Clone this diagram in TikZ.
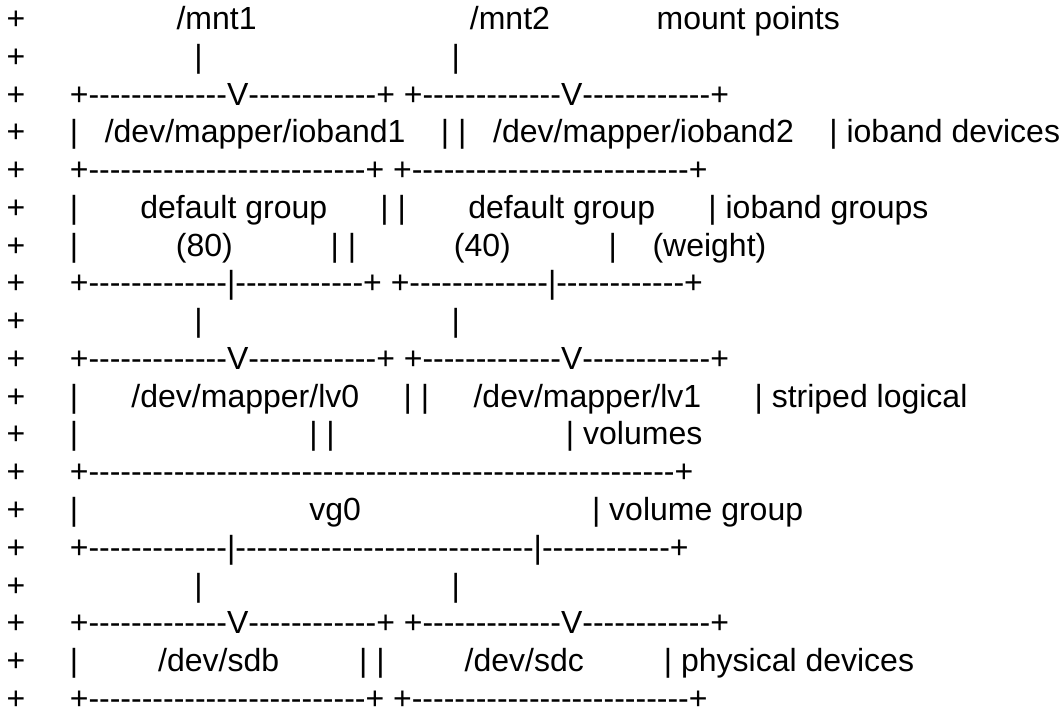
\documentclass[tikz,border=0pt]{standalone}
\usepackage{fontspec}
\usepackage{tikz}
\newfontfamily\asciifont{Liberation Sans}[Kerning=Off]

% n spaces / n dashes of the ascii art
\newcommand{\gap}[1]{\hspace*{#1\fontdimen2\font}}
\newcommand{\dashes}[1]{\foreach\k in {1,...,#1}{-}}

\begin{document}
\begin{tikzpicture}[x=1pt, y=-1pt,
    row/.style={anchor=base west, inner sep=0pt, font={\asciifont\fontsize{32pt}{38pt}\selectfont}}]
    \path[use as bounding box, fill=white] (0,0) rectangle (1063,710);

    % mount points
    \node[row] (l1) at (6.5,29.5) {+\gap{17}/mnt1\gap{24}/mnt2\gap{12}mount points};
    \node[row] (l2) at (6.5,67.27) {+\gap{19}|\gap{28}|};
    % ioband devices and groups
    \node[row] (l3) at (6.5,105.04) {+\gap{5}+\dashes{13}V\dashes{12}+ +\dashes{13}V\dashes{12}+};
    \node[row] (l4) at (6.5,142.81) {+\gap{5}|\gap{3}/dev/mapper/ioband1\gap{4}| |\gap{3}/dev/mapper/ioband2\gap{4}| ioband devices};
    \node[row] (l5) at (6.5,180.58) {+\gap{5}+\dashes{26}+ +\dashes{26}+};
    \node[row] (l6) at (6.5,218.35) {+\gap{5}|\gap{7}default group\gap{6}| |\gap{7}default group\gap{6}| ioband groups};
    \node[row] (l7) at (6.5,256.12) {+\gap{5}|\gap{11}(80)\gap{11}| |\gap{11}(40)\gap{11}|\gap{4}(weight)};
    \node[row] (l8) at (6.5,293.89) {+\gap{5}+\dashes{13}|\dashes{12}+ +\dashes{13}|\dashes{12}+};
    \node[row] (l9) at (6.5,331.66) {+\gap{19}|\gap{28}|};
    % striped logical volumes
    \node[row] (l10) at (6.5,369.43) {+\gap{5}+\dashes{13}V\dashes{12}+ +\dashes{13}V\dashes{12}+};
    \node[row] (l11) at (6.5,407.2) {+\gap{5}|\gap{6}/dev/mapper/lv0\gap{5}| |\gap{5}/dev/mapper/lv1\gap{6}| striped logical};
    \node[row] (l12) at (6.5,444.97) {+\gap{5}|\gap{26}| |\gap{26}| volumes};
    % volume group
    \node[row] (l13) at (6.5,482.74) {+\gap{5}+\dashes{55}+};
    \node[row] (l14) at (6.5,520.51) {+\gap{5}|\gap{26}vg0\gap{26}| volume group};
    \node[row] (l15) at (6.5,558.28) {+\gap{5}+\dashes{13}|\dashes{28}|\dashes{12}+};
    \node[row] (l16) at (6.5,596.05) {+\gap{19}|\gap{28}|};
    % physical devices
    \node[row] (l17) at (6.5,633.82) {+\gap{5}+\dashes{13}V\dashes{12}+ +\dashes{13}V\dashes{12}+};
    \node[row] (l18) at (6.5,671.59) {+\gap{5}|\gap{9}/dev/sdb\gap{9}| |\gap{9}/dev/sdc\gap{9}| physical devices};
    \node[row] (l19) at (6.5,709.36) {+\gap{5}+\dashes{26}+ +\dashes{26}+};
\end{tikzpicture}
\end{document}
